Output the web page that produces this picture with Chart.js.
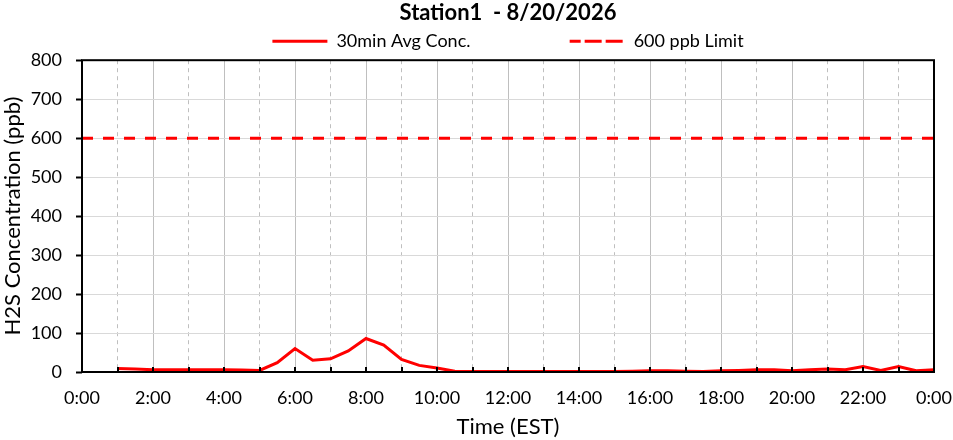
<!DOCTYPE html>
<html>
<head>
<meta charset="utf-8">
<script src="https://cdn.jsdelivr.net/npm/chart.js@4"></script>
<style>
  html, body { margin: 0; padding: 0; background: #fff; }
  #wrap { width: 953px; height: 440px; }
</style>
</head>
<body>
<div id="wrap"><canvas id="chart1"></canvas></div>
<script>
// 30 min averages, time in hours of the day
var times = [1, 1.5, 2, 2.5, 3, 3.5, 4, 4.5, 5, 5.5, 6, 6.5, 7, 7.5, 8, 8.5, 9, 9.5, 10, 10.5,
             11, 11.5, 12, 12.5, 13, 13.5, 14, 14.5, 15, 15.5, 16, 16.5, 17, 17.5, 18, 18.5,
             19, 19.5, 20, 20.5, 21, 21.5, 22, 22.5, 23, 23.5, 24];
var conc = [9, 8, 6, 6, 6, 6, 6, 5, 4, 24, 60, 30, 34, 54, 86, 69, 32, 17, 10, 2,
            1, 1, 1, 1, 1, 1, 1, 1, 1, 2, 3, 3, 2, 1, 3, 4,
            6, 6, 3, 6, 8, 6, 14, 4, 14, 3, 6];
var limitTimes = [0, 24];
var limitValues = [600, 600];

var chartTitle = 'Station1  - 8/20/2026';
var seriesNames = ['30min Avg Conc.', '600 ppb Limit'];
var xTitle = 'Time (EST)';
var yTitle = 'H2S Concentration (ppb)';

function toPoints(xs, ys) {
    var pts = [];
    for (var i = 0; i < xs.length; i++) {
        pts.push({x: xs[i], y: ys[i]});
    }
    return pts;
}

function hourLabel(v) {
    return (v % 24) + ':00';
}

Chart.defaults.font.family = 'Lato, "Open Sans", sans-serif';
Chart.defaults.color = '#000';

// black frame round the plot area and small inward ticks on the time axis
var frame = {
    id: 'frame',
    afterDatasetsDraw: function (chart) {
        var a = chart.chartArea;
        var ctx = chart.ctx;
        var xs = chart.scales.x;
        ctx.save();
        ctx.strokeStyle = '#000';
        ctx.lineWidth = 2;
        ctx.setLineDash([]);
        ctx.beginPath();
        for (var h = 1; h < 24; h++) {
            var px = Math.round(xs.getPixelForValue(h));
            ctx.moveTo(px, a.bottom);
            ctx.lineTo(px, a.bottom - 5);
        }
        ctx.stroke();
        ctx.strokeRect(a.left, a.top, a.right - a.left, a.bottom - a.top);
        ctx.restore();
    }
};

var ctx = document.getElementById('chart1').getContext('2d');
var myChart1 = new Chart(ctx, {
    type: 'line',
    data: {
        datasets: [{
            label: seriesNames[0],
            data: toPoints(times, conc),
            borderColor: '#ff0000',
            backgroundColor: 'rgba(0,0,0,0)',
            borderWidth: 3,
            pointRadius: 0,
            tension: 0
        }, {
            label: seriesNames[1],
            data: toPoints(limitTimes, limitValues),
            borderColor: '#ff0000',
            backgroundColor: 'rgba(0,0,0,0)',
            borderWidth: 3,
            borderDash: [11, 10],
            pointRadius: 0
        }]
    },
    options: {
        responsive: true,
        maintainAspectRatio: false,
        animation: false,
        layout: {
            padding: {left: 0, right: 0, top: 1, bottom: 0}
        },
        plugins: {
            title: {
                display: true,
                fullSize: false,
                text: chartTitle,
                color: '#000',
                font: {size: 22, weight: 'bold', lineHeight: 1.1},
                padding: {top: 0, bottom: 0}
            },
            legend: {
                fullSize: false,
                labels: {
                    boxWidth: 55,
                    boxHeight: 0,
                    font: {size: 18},
                    padding: 7,
                    generateLabels: function (chart) {
                        var items = Chart.defaults.plugins.legend.labels.generateLabels(chart);
                        items[0].text = items[0].text + '                    ';
                        return items;
                    }
                }
            },
            tooltip: {enabled: false}
        },
        scales: {
            x: {
                type: 'linear',
                min: 0,
                max: 24,
                afterFit: function (scale) {
                    scale.height = 68;
                    scale.paddingRight = 19;
                },
                ticks: {
                    stepSize: 1,
                    autoSkip: false,
                    maxRotation: 0,
                    padding: 15,
                    font: {size: 18},
                    callback: function (v) { return v % 2 === 0 ? hourLabel(v) : ''; }
                },
                grid: {
                    drawTicks: false,
                    color: '#bfbfbf',
                    lineWidth: 1
                },
                border: {
                    display: false,
                    dash: function (c) {
                        return (c.tick && c.tick.value % 2 === 1) ? [4, 4] : [];
                    }
                },
                title: {
                    display: true,
                    text: xTitle,
                    font: {size: 22},
                    padding: {top: 0, bottom: 0}
                }
            },
            y: {
                min: 0,
                max: 800,
                afterFit: function (scale) { scale.width = 82; },
                ticks: {
                    stepSize: 100,
                    padding: 14,
                    font: {size: 18}
                },
                grid: {
                    color: '#d9d9d9',
                    tickColor: '#000',
                    tickLength: 6,
                    tickWidth: 2
                },
                border: {display: false},
                title: {
                    display: true,
                    text: yTitle,
                    font: {size: 22},
                    padding: {top: 0, bottom: 0}
                }
            }
        }
    },
    plugins: [frame]
});
</script>
</body>
</html>
